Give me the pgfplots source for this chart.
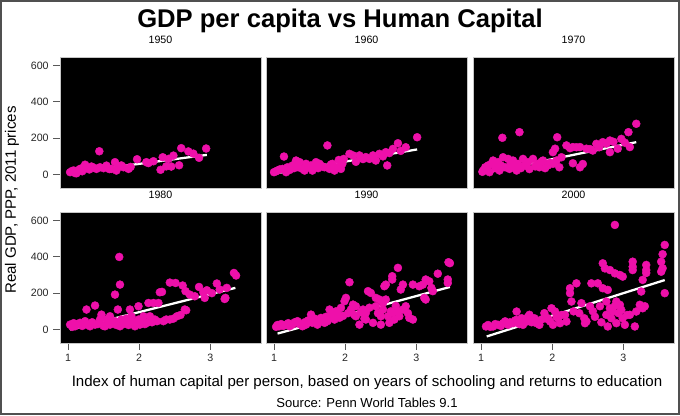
\documentclass[border=0pt]{standalone}
\usepackage{pgfplots}
\pgfplotsset{compat=1.18}
\usepackage{fontspec}
\setmainfont{Liberation Sans}
\definecolor{dot}{HTML}{EE10AA}
\definecolor{framec}{HTML}{505050}
\pgfplotsset{
  panel/.style={
    scale only axis, width=150.75pt, height=98.25pt,
    anchor=north west,
    xmin=0.888, xmax=3.71, ymin=-74, ymax=646,
    axis background/.style={fill=black},
    axis line style={draw=gray!45, line width=0.75pt},
    tick align=outside, major tick length=5pt,
    tick style={draw=gray!70!black, line width=0.6pt},
    xtick pos=bottom, ytick pos=left,
    xtick={1,2,3}, ytick={0,200,400,600},
    /pgf/number format/assume math mode=true,
    ticklabel style={font=\fontsize{8}{9.5}\selectfont, text=black!85},
    title style={font=\fontsize{8}{9.5}\selectfont, at={(0.5,1)}, anchor=south, inner sep=0pt, yshift=3.5pt},
  },
  dots/.style={only marks, color=dot, mark=*, mark size=3pt, mark options={draw=dot, fill=dot, line width=0.3pt}},
  fit/.style={white, line width=1.7pt},
}
\begin{document}
\begin{tikzpicture}
\useasboundingbox (0,0) rectangle (510pt,-311.25pt);
% 1950
\begin{axis}[panel, at={(45pt,-42.75pt)}, title={1950}, xtick=\empty]
\addplot[dots] table {
1.03 13
1.06 20
1.08 22
1.10 8
1.12 7
1.15 25
1.17 31
1.20 18
1.22 40
1.24 54
1.26 35
1.30 28
1.33 44
1.36 38
1.40 31
1.44 128
1.45 40
1.50 35
1.54 49
1.58 30
1.61 31
1.66 68
1.68 22
1.71 44
1.75 50
1.78 40
1.85 31
1.88 42
1.97 84
2.10 68
2.13 63
2.20 73
2.30 26
2.33 95
2.38 45
2.41 86
2.45 44
2.48 104
2.56 51
2.59 145
2.69 127
2.76 115
2.84 92
2.94 143
};
\addplot[fit] coordinates {(1.04,9) (2.95,108)};
\end{axis}
% 1960
\begin{axis}[panel, at={(199.5pt,-42.75pt)}, title={1960}, xtick=\empty, ytick=\empty]
\addplot[dots] table {
1.00 13
1.03 18
1.05 22
1.08 28
1.12 31
1.14 99
1.17 13
1.19 40
1.22 25
1.26 50
1.28 35
1.31 77
1.34 40
1.36 68
1.40 31
1.43 22
1.45 59
1.48 45
1.52 50
1.54 22
1.57 40
1.59 68
1.62 35
1.64 59
1.68 45
1.71 40
1.75 160
1.78 31
1.80 55
1.82 59
1.85 22
1.89 40
1.91 80
1.94 31
1.96 59
1.98 86
2.06 114
2.11 105
2.15 70
2.20 105
2.25 85
2.29 96
2.34 86
2.39 105
2.43 77
2.48 114
2.53 100
2.57 123
2.59 50
2.62 118
2.67 141
2.74 172
2.78 130
2.85 150
3.01 205
};
\addplot[fit] coordinates {(1.03,7) (3.01,138)};
\end{axis}
% 1970
\begin{axis}[panel, at={(354.75pt,-42.75pt)}, title={1970}, xtick=\empty, ytick=\empty]
\addplot[dots] table {
1.02 15
1.03 22
1.06 40
1.08 30
1.10 50
1.12 13
1.15 60
1.17 77
1.20 35
1.24 68
1.26 22
1.28 50
1.30 202
1.31 95
1.34 40
1.38 86
1.40 31
1.42 60
1.45 77
1.48 45
1.50 22
1.52 59
1.54 233
1.56 35
1.59 86
1.62 50
1.66 68
1.68 30
1.73 86
1.76 45
1.80 59
1.82 40
1.85 70
1.87 77
1.90 35
1.94 50
1.97 65
2.01 59
2.01 123
2.04 142
2.06 77
2.07 205
2.10 40
2.13 95
2.20 160
2.25 145
2.29 151
2.29 62
2.34 150
2.39 151
2.39 40
2.43 58
2.48 142
2.53 140
2.57 132
2.62 169
2.66 150
2.71 178
2.76 170
2.81 187
2.81 123
2.86 180
2.92 142
2.97 196
3.02 175
3.07 233
3.09 151
3.18 279
};
\addplot[fit] coordinates {(1.02,7) (3.18,178)};
\end{axis}
% 1980
\begin{axis}[panel, at={(45pt,-159pt)}, title={1980}]
\addplot[dots] table {
1.03 27
1.06 15
1.08 35
1.10 18
1.13 30
1.17 37
1.20 20
1.24 46
1.26 110
1.28 25
1.31 18
1.34 40
1.38 132
1.38 27
1.42 30
1.45 55
1.47 82
1.50 20
1.52 18
1.54 55
1.56 35
1.59 27
1.59 73
1.62 40
1.66 46
1.66 192
1.68 25
1.70 110
1.72 399
1.73 18
1.73 247
1.75 55
1.78 30
1.80 37
1.82 60
1.85 25
1.87 110
1.87 46
1.89 73
1.92 40
1.94 18
1.97 35
1.99 128
1.99 55
2.01 27
2.04 45
2.06 73
2.08 30
2.11 37
2.13 146
2.15 73
2.18 40
2.20 146
2.22 55
2.25 46
2.27 146
2.29 205
2.32 207
2.34 46
2.38 55
2.43 55
2.43 258
2.48 60
2.51 256
2.53 73
2.58 80
2.61 242
2.64 110
2.65 211
2.66 106
2.71 192
2.78 183
2.84 234
2.90 205
2.92 174
2.95 216
3.02 200
3.09 253
3.13 220
3.20 168
3.21 174
3.23 229
3.33 311
3.36 297
};
\addplot[fit] coordinates {(1.03,0) (3.35,229)};
\end{axis}
% 1990
\begin{axis}[panel, at={(199.5pt,-159pt)}, title={1990}, ytick=\empty]
\addplot[dots] table {
1.03 15
1.05 25
1.07 18
1.10 30
1.13 20
1.17 27
1.20 35
1.22 18
1.26 27
1.29 40
1.33 46
1.36 30
1.40 18
1.43 40
1.45 27
1.48 50
1.52 82
1.54 37
1.57 60
1.59 55
1.61 27
1.64 45
1.66 64
1.68 50
1.71 37
1.73 70
1.75 46
1.78 110
1.80 80
1.82 73
1.85 55
1.87 100
1.89 92
1.92 65
1.94 119
1.97 75
1.99 156
2.01 174
2.04 90
2.06 260
2.08 110
2.11 137
2.13 80
2.15 128
2.15 73
2.20 27
2.22 95
2.25 110
2.27 60
2.29 92
2.29 55
2.32 211
2.34 120
2.36 201
2.39 37
2.43 174
2.43 128
2.46 90
2.48 165
2.50 27
2.50 73
2.53 146
2.53 110
2.55 238
2.57 247
2.57 165
2.60 73
2.62 37
2.64 100
2.66 293
2.66 275
2.67 92
2.69 55
2.71 130
2.74 339
2.74 101
2.76 73
2.78 220
2.81 247
2.81 110
2.85 128
2.88 90
2.90 64
2.95 247
2.95 55
3.04 238
3.09 247
3.11 174
3.13 275
3.13 165
3.18 265
3.21 229
3.23 211
3.30 307
3.44 275
3.44 256
3.45 370
3.47 365
};
\addplot[fit] coordinates {(1.05,-22) (3.47,234)};
\end{axis}
% 2000
\begin{axis}[panel, at={(354.75pt,-159pt)}, title={2000}, ytick=\empty]
\addplot[dots] table {
1.07 17
1.10 25
1.13 15
1.17 17
1.20 30
1.24 26
1.28 20
1.31 35
1.34 45
1.38 26
1.41 40
1.45 35
1.48 50
1.50 53
1.50 99
1.54 30
1.57 62
1.59 26
1.62 45
1.64 44
1.66 70
1.68 81
1.71 40
1.75 62
1.78 35
1.82 44
1.82 26
1.85 55
1.89 90
1.92 60
1.94 62
1.97 45
1.99 117
2.01 26
2.04 99
2.06 70
2.08 62
2.11 35
2.13 80
2.18 81
2.20 44
2.25 227
2.25 200
2.27 154
2.30 100
2.34 254
2.38 90
2.41 145
2.45 62
2.46 35
2.48 44
2.53 128
2.55 254
2.57 101
2.60 70
2.64 254
2.67 128
2.69 40
2.71 364
2.71 227
2.74 336
2.76 154
2.76 81
2.78 218
2.78 17
2.81 327
2.81 117
2.83 62
2.85 99
2.88 575
2.88 309
2.88 130
2.90 154
2.90 35
2.93 90
2.95 300
2.95 136
2.97 108
2.99 291
2.99 62
3.02 26
3.05 80
3.09 81
3.13 373
3.13 345
3.13 327
3.16 17
3.18 99
3.23 136
3.25 209
3.27 273
3.27 117
3.30 128
3.32 355
3.32 327
3.32 311
3.53 373
3.55 414
3.55 337
3.53 318
3.58 465
3.58 200
};
\addplot[fit] coordinates {(1.08,-38) (3.58,272)};
\end{axis}
% texts
\node[font=\bfseries\fontsize{19.2}{22}\selectfont, anchor=base] at (255pt,-20.25pt) {GDP per capita vs Human Capital};
\node[font=\fontsize{11.3}{13}\selectfont, rotate=90] at (9pt,-150pt) {Real GDP, PPP, 2011 prices};
\node[font=\fontsize{11.3}{13}\selectfont] at (275.25pt,-287.25pt) {Index of human capital per person, based on years of schooling and returns to education};
\node[font=\fontsize{9.8}{12}\selectfont] at (275.25pt,-302.25pt) {Source: Penn World Tables 9.1};
\draw[framec, line width=1.5pt] (0.75pt,-0.75pt) rectangle (509.25pt,-310.5pt);
\end{tikzpicture}
\end{document}
